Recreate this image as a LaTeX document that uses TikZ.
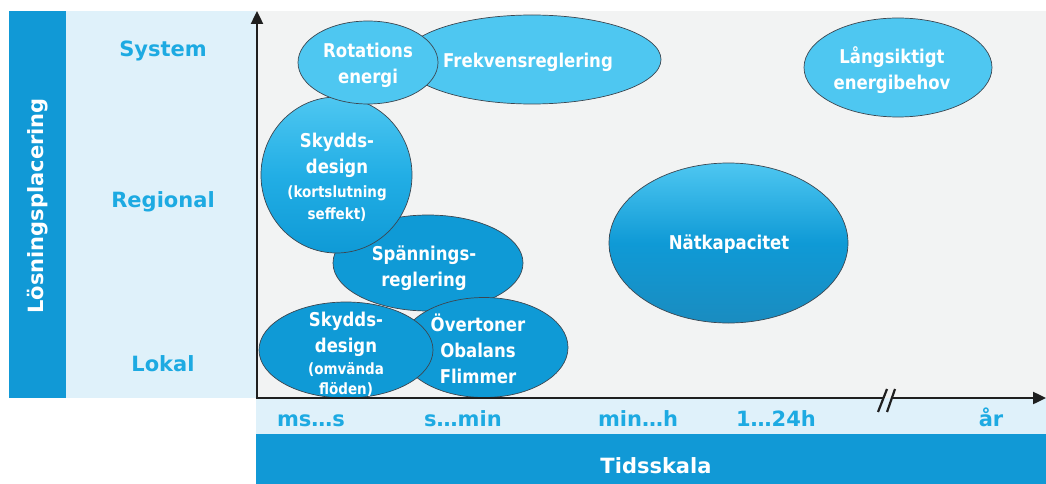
\documentclass[tikz,border=0pt]{standalone}
\usepackage{fontspec}
\setmainfont{DejaVu Sans}
\newfontfamily\bubfont{DejaVu Sans}[FakeStretch=0.87]
\usetikzlibrary{shapes.geometric,arrows.meta}

\definecolor{bandblue}{HTML}{1199D6}
\definecolor{palecyan}{HTML}{DFF1FA}
\definecolor{plotgray}{HTML}{F2F3F3}
\definecolor{lightbub}{HTML}{4EC7F1}
\definecolor{midbub}{HTML}{22AEE5}
\definecolor{darkbub}{HTML}{0F9AD6}
\definecolor{deepbub}{HTML}{1A8CC0}
\definecolor{labelblue}{HTML}{1DAAE2}
\definecolor{rimgray}{HTML}{3C4650}

\newcommand{\subsz}{\fontsize{15.5}{22}\selectfont}

\tikzset{
  x=1pt, y=-1pt,
  bubble/.style={ellipse, draw=rimgray, line width=0.7pt, inner sep=0pt},
  flatlight/.style={bubble, fill=lightbub},
  flatdark/.style={bubble, fill=darkbub},
  bubtext/.style={text=white, font=\bubfont\bfseries\fontsize{19}{26}\selectfont,
                  align=center, inner sep=0pt},
  axislabel/.style={text=labelblue, font=\bfseries\fontsize{21}{25}\selectfont,
                    inner sep=0pt, anchor=base},
  axisline/.style={line width=2.4pt, draw=black!88},
  breakmark/.style={line width=2.2pt, draw=black!88},
}

\begin{document}
\begin{tikzpicture}
  \useasboundingbox (0,0) rectangle (1046,484);

  % background bands
  \fill[bandblue] (9,11) rectangle (66,398);
  \fill[palecyan] (66,11) rectangle (256,398);
  \fill[plotgray] (256,11) rectangle (1046,398);
  \fill[palecyan] (256,398) rectangle (1046,434);
  \fill[bandblue] (256,434) rectangle (1046,484);

  % vertical axis title and levels
  \node[rotate=90, text=white, font=\bfseries\fontsize{21}{25}\selectfont,
        inner sep=0pt] (placering) at (38,206) {Lösningsplacering};
  \node[axislabel] (system)   at (163,57)  {System};
  \node[axislabel] (regional) at (163,207) {Regional};
  \node[axislabel] (lokal)    at (163,371) {Lokal};

  % time scale labels
  \node[axislabel] (t1) at (311,426) {ms…s};
  \node[axislabel] (t2) at (463,426) {s…min};
  \node[axislabel] (t3) at (638,426) {min…h};
  \node[axislabel] (t4) at (776,426) {1…24h};
  \node[axislabel] (t5) at (991,426) {år};
  \node[text=white, font=\bfseries\fontsize{21}{25}\selectfont, inner sep=0pt,
        anchor=base] (tidsskala) at (656,473) {Tidsskala};

  % bubbles, back to front
  \node[flatlight, minimum width=258pt, minimum height=89pt] (frekE) at (532,59.5) {};
  \node[flatdark, minimum width=190pt, minimum height=96pt] (spanE) at (428,263) {};
  \node[bubble, top color=lightbub, bottom color=darkbub, middle color=midbub,
        minimum width=151pt, minimum height=156pt] (kortE) at (336.5,175) {};
  \node[flatlight, minimum width=140pt, minimum height=83pt] (rotE) at (368,62.5) {};
  \node[flatdark, minimum width=168pt, minimum height=100pt] (overE) at (484,347.5) {};
  \node[flatdark, minimum width=174pt, minimum height=96pt] (omvE) at (346,350) {};
  \node[bubble, top color=lightbub, bottom color=deepbub, middle color=darkbub,
        minimum width=239pt, minimum height=160pt] (natE) at (728.5,243) {};
  \node[flatlight, minimum width=188pt, minimum height=99pt] (langE) at (898,67.5) {};

  % bubble texts
  \node[bubtext] (frekT) at (528,62) {Frekvensreglering};
  \node[bubtext] (spanT) at (424,268) {Spännings-\\reglering};
  \node[bubtext] (kortT) at (337,177) {Skydds-\\design\\[-2pt]{\subsz (kortslutning}\\[-4pt]{\subsz seffekt)}};
  \node[bubtext] (rotT)  at (368,65)  {Rotations\\energi};
  \node[bubtext] (overT) at (478,349) {Övertoner\\Obalans\\Flimmer};
  \node[bubtext] (omvT)  at (346,354) {Skydds-\\design\\[-4pt]{\subsz (omvända}\\[-6pt]{\subsz flöden)}};
  \node[bubtext] (natT)  at (729,244) {Nätkapacitet};
  \node[bubtext] (langT) at (892,70)  {Långsiktigt\\energibehov};

  % axes
  \coordinate (origin) at (257,398);
  \coordinate (ytop)   at (257,11);
  \coordinate (xend)   at (1046,398);
  \coordinate (gapL)   at (883,398);
  \coordinate (gapR)   at (891,398);
  \draw[axisline, -{Triangle[width=12pt,length=13pt]}] (origin) -- (ytop);
  \draw[axisline] ([xshift=-1.2pt]origin) -- (gapL);
  \draw[axisline, -{Triangle[width=12pt,length=13pt]}] (gapR) -- (xend);

  % axis break
  \coordinate (b1a) at (878,412);
  \coordinate (b1b) at (887,389);
  \coordinate (b2a) at (887,412);
  \coordinate (b2b) at (895,389);
  \draw[breakmark] (b1a) -- (b1b);
  \draw[breakmark] (b2a) -- (b2b);
\end{tikzpicture}
\end{document}
